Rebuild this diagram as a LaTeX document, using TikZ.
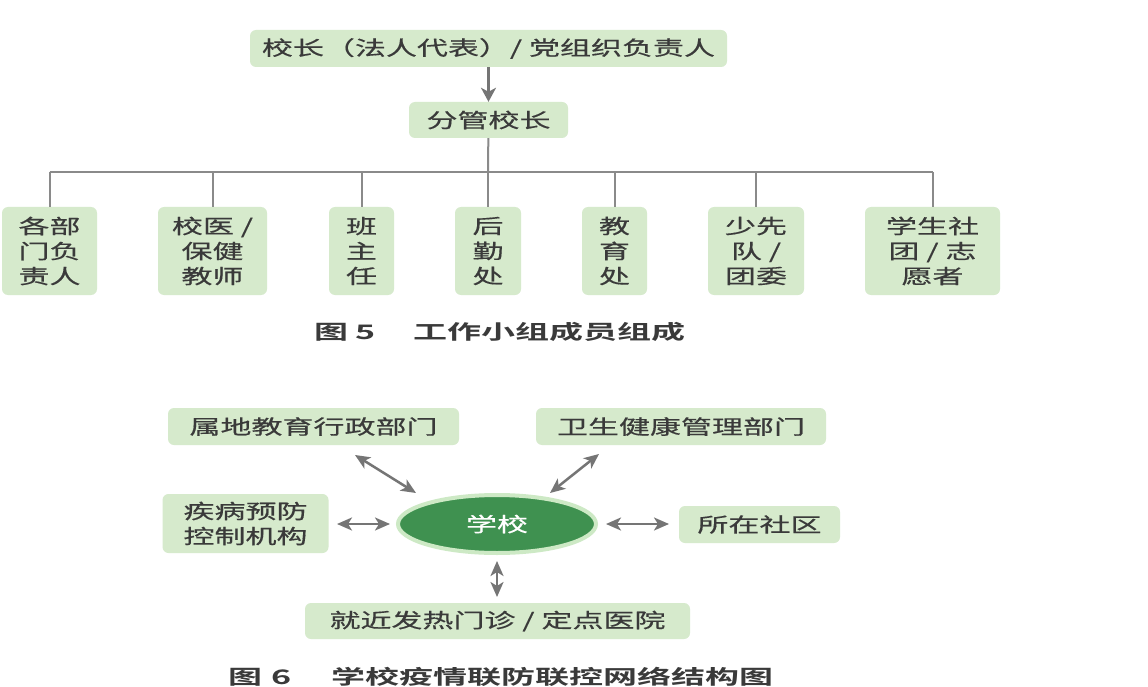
\documentclass[tikz,border=0pt]{standalone}
\usepackage{fontspec}
\setmainfont{Noto Sans CJK SC}[FakeStretch=1.55,FakeBold=0.5]
\newfontfamily\capfont{Noto Sans CJK SC Bold}[FakeStretch=1.7]
\usetikzlibrary{arrows.meta,shapes.geometric}
\definecolor{boxg}{HTML}{D6EACC}
\definecolor{txt}{HTML}{3A3A3A}
\definecolor{ln}{HTML}{8A8A8A}
\definecolor{arrc}{HTML}{757575}
\definecolor{dg}{HTML}{3F9150}
\definecolor{lg}{HTML}{CDE9C5}
\begin{document}
\begin{tikzpicture}[x=1pt,y=-1pt,
  box/.style={fill=boxg, rounded corners=6pt, inner sep=0pt, align=center,
    text=txt, font=\fontsize{20}{25}\selectfont},
  conn/.style={draw=ln, line width=2pt},
  arr/.style={draw=arrc, line width=2.5pt, -{Stealth[length=14pt,width=15pt,inset=4pt]}},
  dbl/.style={draw=arrc, line width=2.5pt,
    {Stealth[length=15pt,width=13pt,inset=4pt]}-{Stealth[length=15pt,width=13pt,inset=4pt]}},
  captxt/.style={anchor=west, inner sep=0pt, text=txt, font=\capfont\fontsize{20}{20}\selectfont}]
\fill[white] (0,0) rectangle (1148,687);

% ---------- Figure 5 ----------
\node[box, minimum width=477pt, minimum height=37pt] (top) at (488.5,48.5)
  {校长（法人代表）/ 党组织负责人};
\node[box, minimum width=159pt, minimum height=36pt] (fg) at (488.5,120) {分管校长};

\node[box, minimum width=95pt, minimum height=88pt] (b1) at (49.5,251) {各部\\门负\\责人};
\node[box, minimum width=109pt, minimum height=88pt] (b2) at (212.5,251) {校医 /\\保健\\教师};
\node[box, minimum width=65pt, minimum height=88pt] (b3) at (361.5,251) {班\\主\\任};
\node[box, minimum width=66pt, minimum height=88pt] (b4) at (488,251) {后\\勤\\处};
\node[box, minimum width=65pt, minimum height=88pt] (b5) at (614.5,251) {教\\育\\处};
\node[box, minimum width=96pt, minimum height=88pt] (b6) at (756,251) {少先\\队 /\\团委};
\node[box, minimum width=135pt, minimum height=88pt] (b7) at (932.5,251) {学生社\\团 / 志\\愿者};

\coordinate (bus) at (488,172);
\draw[arr] (top) -- (fg);
\draw[conn] (fg) -- (bus);
\draw[conn] (b1.north |- bus) -- (b7.north |- bus);
\foreach \b in {b1,b2,b3,b4,b5,b6,b7}
  \draw[conn] (\b.north) -- (\b.north |- bus);

\node[captxt] (cap5) at (314,332) {图\hspace{7pt}5\hspace{38pt}工作小组成员组成};

% ---------- Figure 6 ----------
\node[box, minimum width=291pt, minimum height=37pt] (sd) at (313.5,426.5) {属地教育行政部门};
\node[box, minimum width=290pt, minimum height=37pt] (ws) at (681,426.5) {卫生健康管理部门};
\node[box, minimum width=166pt, minimum height=59pt] (jb) at (245.5,523.5) {疾病预防\\控制机构};
\node[box, minimum width=161pt, minimum height=37pt] (sq) at (759.5,524.5) {所在社区};
\node[box, minimum width=385pt, minimum height=36pt] (yy) at (497.5,621) {就近发热门诊 / 定点医院};
\node[ellipse, fill=dg, draw=lg, line width=4pt, minimum width=198pt, minimum height=58pt,
  inner sep=0pt, text=white, font=\fontsize{20}{25}\selectfont] (school) at (497,524) {学校};

\coordinate (p1a) at (355,455); \coordinate (p1b) at (416,493);
\coordinate (p2a) at (599,454); \coordinate (p2b) at (550,493);
\coordinate (p3a) at (337,524); \coordinate (p3b) at (390,524);
\coordinate (p4a) at (606,524); \coordinate (p4b) at (669,524);
\coordinate (p5a) at (497,561); \coordinate (p5b) at (497,597);
\draw[dbl] (p1a) -- (p1b);
\draw[dbl] (p2a) -- (p2b);
\draw[dbl] (p3a) -- (p3b);
\draw[dbl] (p4a) -- (p4b);
\draw[dbl] (p5a) -- (p5b);

\node[captxt] (cap6) at (228,677) {图\hspace{9pt}6\hspace{40pt}学校疫情联防联控网络结构图};
\end{tikzpicture}
\end{document}
